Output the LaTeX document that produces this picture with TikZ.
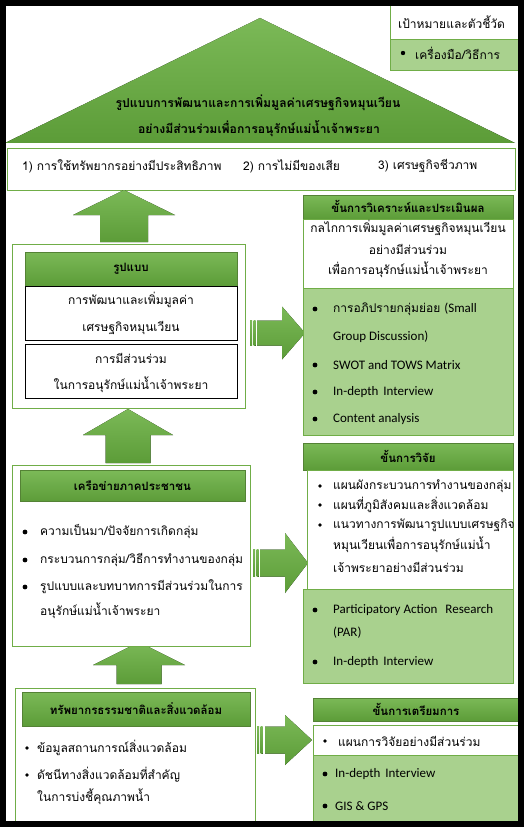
\documentclass[tikz,border=0pt]{standalone}
\usepackage{fontspec}
\setmainfont{Carlito}
\newfontfamily\thai[Script=Thai]{Loma}
\usetikzlibrary{positioning}

\definecolor{gline}{HTML}{70AD47}
\definecolor{gtop}{HTML}{7BB957}
\definecolor{gbot}{HTML}{5C9C38}
\definecolor{glight}{HTML}{A9D18E}

\newcommand{\upblock}[6]{% cx, tip, head base, bottom, head half, shaft half
  \fill[top color=gtop,bottom color=gbot] (#1,#2) -- (#1+#5,#3) -- (#1+#6,#3) -- (#1+#6,#4)
    -- (#1-#6,#4) -- (#1-#6,#3) -- (#1-#5,#3) -- cycle;}
\newcommand{\rightblock}[7]{% left, head base, tip, cy, head half, shaft half, stripe gap
  \fill[top color=gtop,bottom color=gbot] (#1,#4-#6) rectangle (#1+2,#4+#6);
  \fill[top color=gtop,bottom color=gbot] (#1+3.5,#4-#6) rectangle (#1+5.5,#4+#6);
  \fill[top color=gtop,bottom color=gbot] (#1+#7,#4-#6) -- (#2,#4-#6) -- (#2,#4-#5) -- (#3,#4)
    -- (#2,#4+#5) -- (#2,#4+#6) -- (#1+#7,#4+#6) -- cycle;}

\begin{document}
\begin{tikzpicture}[x=1pt,y=-1pt,
    box/.style={draw=gline,line width=.8pt,fill=white,inner sep=0pt},
    bar/.style={draw=gline!75!black,line width=.5pt,top color=gtop,bottom color=gbot,inner sep=0pt},
    pale/.style={draw=gline,line width=.8pt,fill=glight,inner sep=0pt},
    cell/.style={draw=black,line width=.6pt,fill=white,inner sep=0pt},
    txt/.style={inner sep=0pt,font=\thai\fontsize{12}{14}\selectfont},
    hd/.style={inner sep=0pt,font=\thai\bfseries\fontsize{11.5}{13}\selectfont},
    en/.style={inner sep=0pt,anchor=west,font=\fontsize{13}{15}\selectfont}]

  \useasboundingbox (0,0) rectangle (525,829);

  % roof
  \fill[top color=gtop,bottom color=gbot] (260,18) -- (515,143) -- (5,143) -- cycle;
  \node[hd,font=\thai\bfseries\fontsize{12.2}{14}\selectfont] (title1) at (258,103) {รูปแบบการพัฒนาและการเพิ่มมูลค่าเศรษฐกิจหมุนเวียน};
  \node[hd,font=\thai\bfseries\fontsize{12.2}{14}\selectfont] (title2) at (259,129) {อย่างมีส่วนร่วมเพื่อการอนุรักษ์แม่น้ำเจ้าพระยา};

  % legend
  \node[box,minimum width=130,minimum height=34] (goal) at (455,22) {};
  \node[pale,minimum width=130,minimum height=31] (tool) at (455,54.5) {};
  \node[txt,anchor=west] (goaltxt) at (398,22) {เป้าหมายและตัวชี้วัด};
  \fill (403,53) circle (2.2pt);
  \node[txt,anchor=west] (tooltxt) at (415,53) {เครื่องมือ/วิธีการ};

  % aims
  \node[box,minimum width=508,minimum height=42] (aims) at (261,169) {};
  \begin{scope}[every node/.style={txt,anchor=west}]
    \node (aim1) at (22,166) {1) การใช้ทรัพยากรอย่างมีประสิทธิภาพ};
    \node (aim2) at (243,166) {2) การไม่มีของเสีย};
    \node (aim3) at (378,166) {3) เศรษฐกิจชีวภาพ};
  \end{scope}

  % block arrows
  \upblock{124}{190}{215}{242}{51}{24}
  \upblock{128}{409}{435}{463}{45}{22.5}
  \upblock{139}{642}{665}{684}{46}{22.5}
  \rightblock{250}{282}{305}{333}{26.5}{12.5}{7}
  \rightblock{253}{285}{308}{563}{30}{13.5}{7}
  \rightblock{257}{285}{312}{740}{25}{13.5}{8}

  % model
  \node[box,minimum width=233,minimum height=164] (model) at (128.5,326) {};
  \node[bar,minimum width=212,minimum height=34] (modelhd) at (131,269) {};
  \node[cell,minimum width=212,minimum height=54] (econ) at (131,313) {};
  \node[cell,minimum width=212,minimum height=54] (part) at (131,371) {};
  \node[hd] (modeltxt) at (131,269) {รูปแบบ};
  \begin{scope}[every node/.style={txt}]
    \node (econ1) at (131,300) {การพัฒนาและเพิ่มมูลค่า};
    \node (econ2) at (131,328) {เศรษฐกิจหมุนเวียน};
    \node (part1) at (131,358) {การมีส่วนร่วม};
    \node (part2) at (131,385) {ในการอนุรักษ์แม่น้ำเจ้าพระยา};
  \end{scope}

  % network
  \node[box,minimum width=238,minimum height=181] (net) at (131,555.5) {};
  \node[bar,minimum width=225,minimum height=31] (nethd) at (132.5,486) {};
  \node[hd] (nettxt) at (132.5,486) {เครือข่ายภาคประชาชน};
  \fill (25,532) circle (2.4pt);
  \fill (25,560) circle (2.4pt);
  \fill (25,587) circle (2.4pt);
  \begin{scope}[every node/.style={txt,anchor=west}]
    \node (net1) at (40,532) {ความเป็นมา/ปัจจัยการเกิดกลุ่ม};
    \node (net2) at (40,560) {กระบวนการกลุ่ม/วิธีการทำงานของกลุ่ม};
    \node (net3) at (40,587) {รูปแบบและบทบาทการมีส่วนร่วมในการ};
    \node (net4) at (40,611) {อนุรักษ์แม่น้ำเจ้าพระยา};
  \end{scope}

  % resources
  \node[box,minimum width=240,minimum height=135] (res) at (135,755.5) {};
  \node[bar,minimum width=228,minimum height=34] (reshd) at (136,709) {};
  \node[hd] (restxt) at (136,709) {ทรัพยากรธรรมชาติและสิ่งแวดล้อม};
  \fill (27,748) circle (1.8pt);
  \fill (27,775) circle (1.8pt);
  \begin{scope}[every node/.style={txt,anchor=west}]
    \node (res1) at (37,748) {ข้อมูลสถานการณ์สิ่งแวดล้อม};
    \node (res2) at (37,775) {ดัชนีทางสิ่งแวดล้อมที่สำคัญ};
    \node (res3) at (37,797) {ในการบ่งชี้คุณภาพน้ำ};
  \end{scope}

  % analysis stage
  \node[bar,minimum width=210,minimum height=24] (anahd) at (408,207) {};
  \node[cell,draw=gline,minimum width=210,minimum height=69] (anamech) at (408,253.5) {};
  \node[pale,minimum width=210,minimum height=147] (anatool) at (408,361.5) {};
  \node[hd] (anatxt) at (408,206) {ขั้นการวิเคราะห์และประเมินผล};
  \begin{scope}[every node/.style={txt}]
    \node (mech1) at (408,228) {กลไกการเพิ่มมูลค่าเศรษฐกิจหมุนเวียน};
    \node (mech2) at (408,249) {อย่างมีส่วนร่วม};
    \node (mech3) at (408,270) {เพื่อการอนุรักษ์แม่น้ำเจ้าพระยา};
  \end{scope}
  \fill (315,309) circle (2.4pt);
  \fill (315,365) circle (2.4pt);
  \fill (315,392) circle (2.4pt);
  \fill (315,419) circle (2.4pt);
  \node[txt,anchor=west] (ana1) at (333,309) {การอภิปรายกลุ่มย่อย {\rmfamily\fontsize{13}{15}\selectfont (Small}};
  \node[en] (ana2) at (333,337) {Group Discussion)};
  \node[en] (ana3) at (333,365) {SWOT and TOWS Matrix};
  \node[en] (ana4) at (333,392) {In-depth\hspace{2pt} Interview};
  \node[en] (ana5) at (333,419) {Content analysis};

  % research stage
  \node[bar,minimum width=210,minimum height=27] (reshd2) at (408,456.5) {};
  \node[cell,draw=gline,minimum width=206,minimum height=119] (resout) at (410,529.5) {};
  \node[pale,minimum width=210,minimum height=94] (restool) at (408,636) {};
  \node[hd] (restxt2) at (408,456) {ขั้นการวิจัย};
  \fill (320,486) circle (1.8pt);
  \fill (320,505) circle (1.8pt);
  \fill (320,525) circle (1.8pt);
  \begin{scope}[every node/.style={txt,anchor=west}]
    \node (out1) at (333,486) {แผนผังกระบวนการทำงานของกลุ่ม};
    \node (out2) at (333,505) {แผนที่ภูมิสังคมและสิ่งแวดล้อม};
    \node (out3) at (333,525) {แนวทางการพัฒนารูปแบบเศรษฐกิจ};
    \node (out4) at (333,545) {หมุนเวียนเพื่อการอนุรักษ์แม่น้ำ};
    \node (out5) at (333,567) {เจ้าพระยาอย่างมีส่วนร่วม};
  \end{scope}
  \fill (315,610) circle (2.4pt);
  \fill (315,662) circle (2.4pt);
  \node[en] (par1) at (333,610) {Participatory Action\hspace{5pt} Research};
  \node[en] (par2) at (333,633) {(PAR)};
  \node[en] (par3) at (333,662) {In-depth\hspace{2pt} Interview};

  % preparation stage
  \node[bar,minimum width=206,minimum height=23] (prephd) at (416,709.5) {};
  \node[cell,draw=gline,minimum width=206,minimum height=30] (plan) at (416,740) {};
  \node[pale,minimum width=206,minimum height=67] (preptool) at (416,788.5) {};
  \node[hd] (preptxt) at (416,709) {ขั้นการเตรียมการ};
  \fill (325,741) circle (1.8pt);
  \node[txt,anchor=west] (plan1) at (338,741) {แผนการวิจัยอย่างมีส่วนร่วม};
  \fill (325,774) circle (2.4pt);
  \fill (325,806) circle (2.4pt);
  \node[en] (prep1) at (335,774) {In-depth\hspace{2pt} Interview};
  \node[en] (prep2) at (335,806) {GIS \& GPS};

  % outer frame
  \draw[line width=6pt] (3,3) rectangle (521,824);

\end{tikzpicture}
\end{document}
